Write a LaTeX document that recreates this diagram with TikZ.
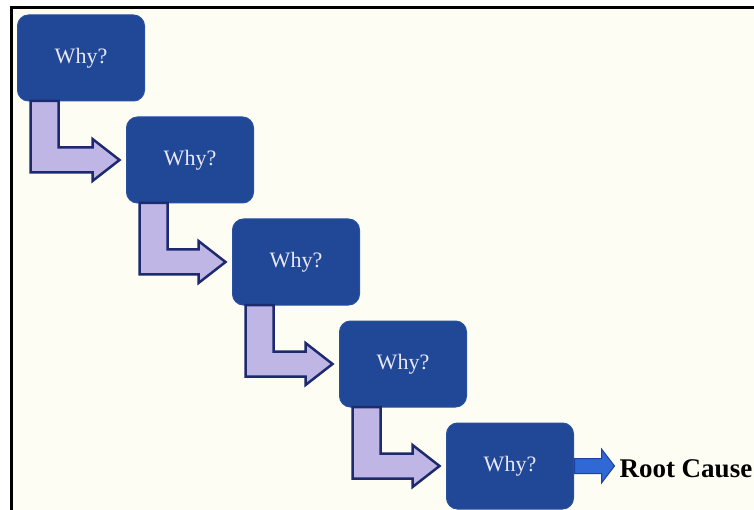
\documentclass[tikz,border=0pt]{standalone}
\usepackage{fontspec}
\setmainfont{Liberation Serif}
\usetikzlibrary{positioning,calc}
\definecolor{paper}{RGB}{253,253,244}
\definecolor{whybg}{RGB}{33,72,150}
\definecolor{whyedge}{RGB}{40,80,160}
\definecolor{whytxt}{RGB}{232,232,246}
\definecolor{bendfill}{RGB}{192,182,230}
\definecolor{bendline}{RGB}{30,42,110}
\definecolor{rootfill}{RGB}{48,104,214}
\definecolor{rootline}{RGB}{30,64,160}

\begin{document}
\begin{tikzpicture}[x=1pt,y=1pt,
        why/.style={rectangle,rounded corners=11pt,fill=whybg,draw=whyedge,line width=1pt,
          text=whytxt,font=\fontsize{22}{26}\selectfont,minimum width=127pt,minimum height=86pt,
          inner sep=0pt,outer sep=0pt},
        bendarrow/.style={fill=bendfill,draw=bendline,line width=2.5pt,line join=miter},
        rootarrow/.style={fill=rootfill,draw=rootline,line width=1pt,line join=miter},
        rootlbl/.style={font=\fontsize{27}{30}\selectfont\bfseries,inner sep=0pt,outer sep=0pt}]
   \useasboundingbox (0,0) rectangle (754,-510);
   \fill[white] (0,0) rectangle (754,-510);
   \fill[paper] (12,-8) rectangle (754,-510);
   \draw[line width=2.5pt] (11.5,-510) -- (11.5,-7.5) -- (754,-7.5);

   \node[why] (A) at (81,-58) {Why?};
   \node[why] (B) [below right=16pt and -18pt of A] {Why?};
   \node[why] (C) [below right=16pt and -21pt of B] {Why?};
   \node[why] (D) [below right=16pt and -20pt of C] {Why?};
   \node[why] (E) [below right=16pt and -20pt of D] {Why?};
   \node[rootlbl] (R) [right=46pt of E, yshift=-3pt] {Root Cause};

   % bent arrows between the boxes
   \draw[bendarrow] ([xshift=13pt]A.south west) -- ([xshift=41pt]A.south west)
      |- ([xshift=-34pt,yshift=12.5pt]B.west) -- ([xshift=-34pt,yshift=21pt]B.west)
      -- ([xshift=-7pt]B.west) -- ([xshift=-34pt,yshift=-21pt]B.west)
      -- ([xshift=-34pt,yshift=-12.5pt]B.west) -| ([xshift=13pt]A.south west) -- cycle;
   \draw[bendarrow] ([xshift=13pt]B.south west) -- ([xshift=41pt]B.south west)
      |- ([xshift=-34pt,yshift=12.5pt]C.west) -- ([xshift=-34pt,yshift=21pt]C.west)
      -- ([xshift=-7pt]C.west) -- ([xshift=-34pt,yshift=-21pt]C.west)
      -- ([xshift=-34pt,yshift=-12.5pt]C.west) -| ([xshift=13pt]B.south west) -- cycle;
   \draw[bendarrow] ([xshift=13pt]C.south west) -- ([xshift=41pt]C.south west)
      |- ([xshift=-34pt,yshift=12.5pt]D.west) -- ([xshift=-34pt,yshift=21pt]D.west)
      -- ([xshift=-7pt]D.west) -- ([xshift=-34pt,yshift=-21pt]D.west)
      -- ([xshift=-34pt,yshift=-12.5pt]D.west) -| ([xshift=13pt]C.south west) -- cycle;
   \draw[bendarrow] ([xshift=13pt]D.south west) -- ([xshift=41pt]D.south west)
      |- ([xshift=-34pt,yshift=12.5pt]E.west) -- ([xshift=-34pt,yshift=21pt]E.west)
      -- ([xshift=-7pt]E.west) -- ([xshift=-34pt,yshift=-21pt]E.west)
      -- ([xshift=-34pt,yshift=-12.5pt]E.west) -| ([xshift=13pt]D.south west) -- cycle;

   % last arrow to the root cause
   \draw[rootarrow] ([xshift=1pt,yshift=7.5pt]E.east) -- ([xshift=28pt,yshift=7.5pt]E.east)
      -- ([xshift=28pt,yshift=17pt]E.east) -- ([xshift=-5pt]R.west |- E.east)
      -- ([xshift=28pt,yshift=-17pt]E.east) -- ([xshift=28pt,yshift=-7.5pt]E.east)
      -- ([xshift=1pt,yshift=-7.5pt]E.east) -- cycle;

\end{tikzpicture}
\end{document}
